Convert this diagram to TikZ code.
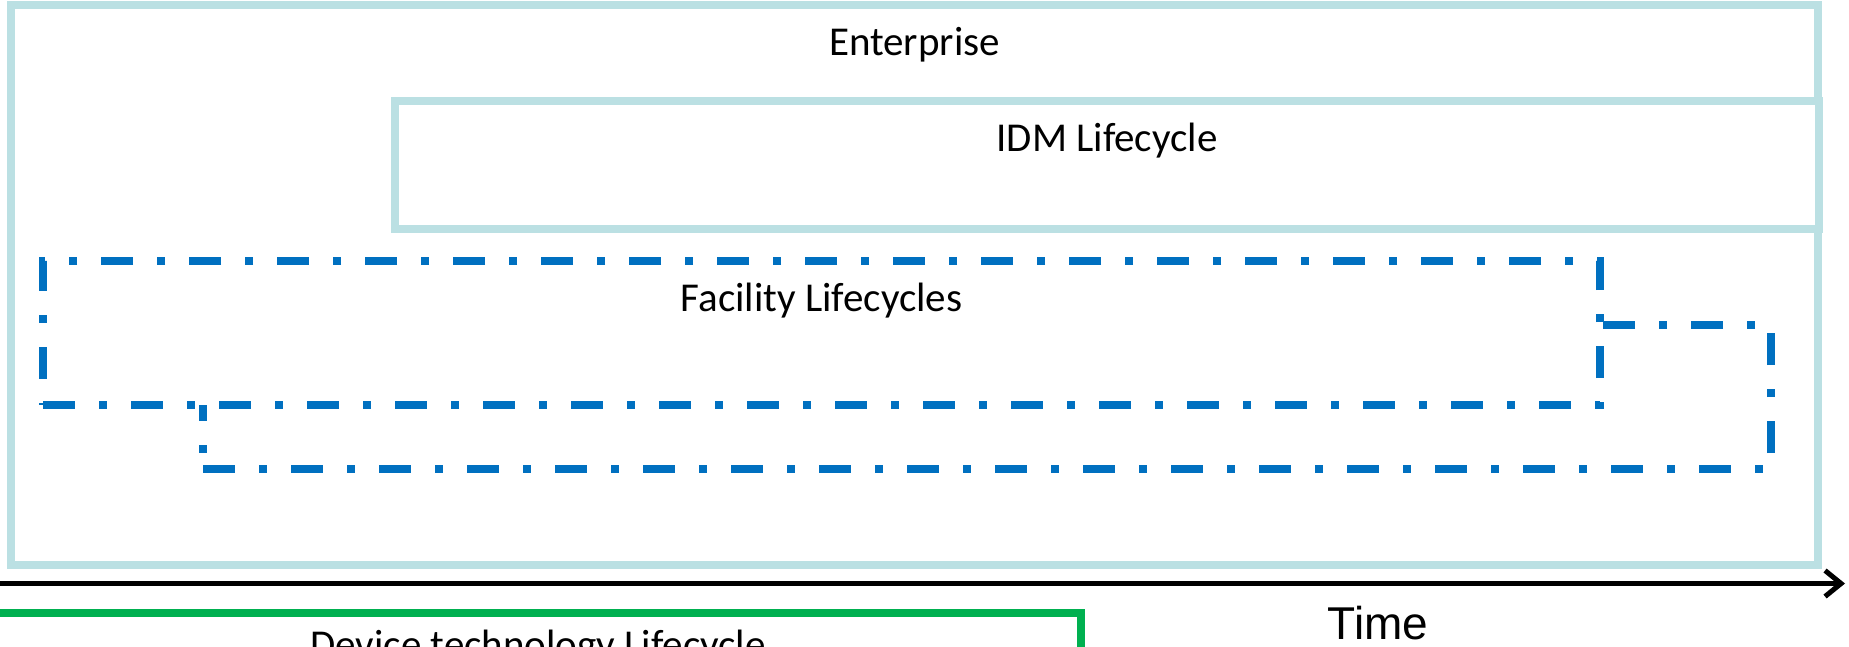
\documentclass[tikz,border=0pt]{standalone}
\usepackage{fontspec}
\setmainfont{Carlito}
\newfontfamily\timefont{Liberation Sans}
\usetikzlibrary{arrows.meta}

\definecolor{aqualine}{RGB}{187,224,227}
\definecolor{facblue}{RGB}{0,112,192}
\definecolor{devgreen}{RGB}{0,176,80}

\begin{document}
\begin{tikzpicture}[x=1pt,y=-1pt,inner sep=0pt,outer sep=0pt]

  \tikzstyle{lifebox}=[rectangle,draw=aqualine,line width=8pt,fill=white]
  \tikzstyle{facbox}=[rectangle,draw=facblue,line width=8pt,
                      dash pattern=on 32pt off 24pt on 8pt off 24pt]
  \tikzstyle{devbox}=[rectangle,draw=devgreen,line width=8pt]
  \tikzstyle{lbl}=[anchor=base,font=\fontsize{41}{49}\selectfont]

  \useasboundingbox (0,0) rectangle (1849,646);

  % boxes
  \node[lifebox,minimum width=1807pt,minimum height=560pt] (ent) at (914.5,285) {};
  \node[lifebox,minimum width=1424pt,minimum height=128pt] (idm) at (1107,165) {};
  \node[facbox,minimum width=1568pt,minimum height=144pt] (fac2) at (987,397) {};
  \node[facbox,fill=white,minimum width=1557pt,minimum height=144pt] (fac1) at (821.5,333) {};
  \node[devbox,minimum width=1086pt,minimum height=110pt] (dev) at (538,668) {};

  % labels
  \node[lbl] (entlbl) at (914.5,55)  {Enterprise};
  \node[lbl] (idmlbl) at (1107,151)  {IDM Lifecycle};
  \node[lbl] (faclbl) at (821.5,311) {Facility Lifecycles};
  \node[lbl] (devlbl) at (538,658)   {Device technology Lifecycle};

  % time axis
  \coordinate (t0) at (-5,583.5);
  \coordinate (t1) at (1845,583.5);
  \draw[line width=5pt,-{Straight Barb[length=16pt,width=26pt]}] (t0) -- (t1);
  \node[anchor=base,font=\timefont\fontsize{46}{54}\selectfont] (time) at (1378,639) {Time};

\end{tikzpicture}
\end{document}
